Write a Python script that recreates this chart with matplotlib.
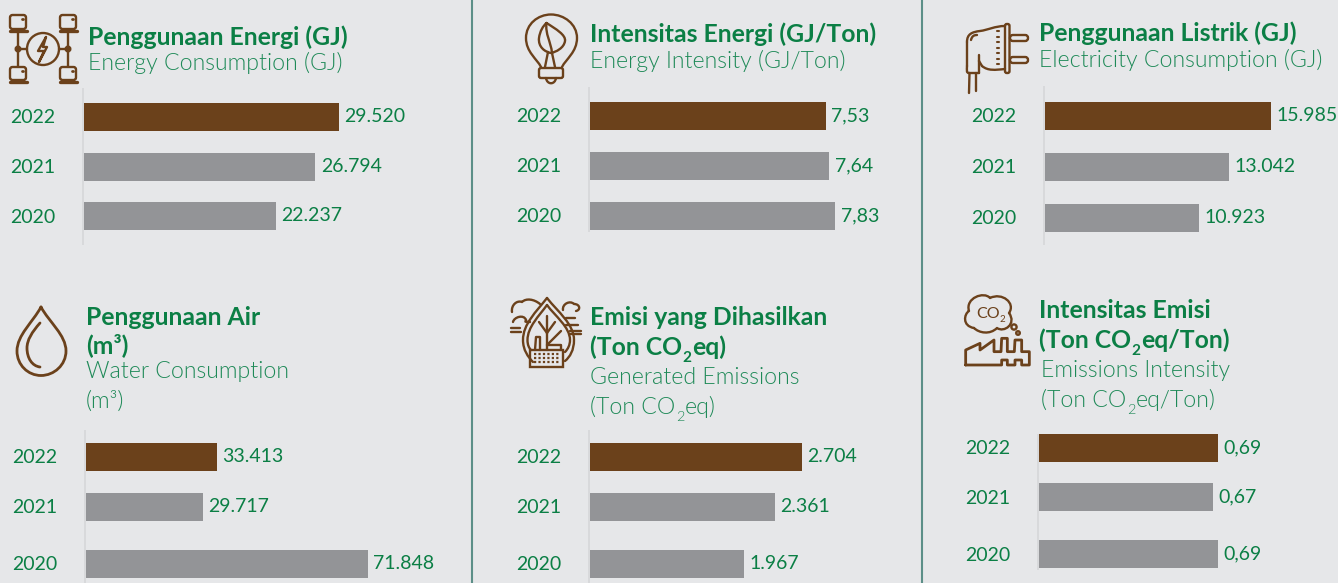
import matplotlib
matplotlib.use("Agg")
import matplotlib.pyplot as plt
from matplotlib import font_manager as fm
from matplotlib.patches import Circle, Rectangle, PathPatch, FancyBboxPatch
from matplotlib.path import Path
import os

years = ["2022", "2021", "2020"]
energy = [29520, 26794, 22237]
energy_intensity = [7.53, 7.64, 7.83]
electricity = [15985, 13042, 10923]
water = [33413, 29717, 71848]
emissions = [2704, 2361, 1967]
emission_intensity = [0.69, 0.67, 0.69]

energy_labels = ["29.520", "26.794", "22.237"]
energy_intensity_labels = ["7,53", "7,64", "7,83"]
electricity_labels = ["15.985", "13.042", "10.923"]
water_labels = ["33.413", "29.717", "71.848"]
emissions_labels = ["2.704", "2.361", "1.967"]
emission_intensity_labels = ["0,69", "0,67", "0,69"]

W, H = 1338, 583
BG = "#e6e7e9"; BROWN = "#6b411b"; GREY = "#939497"; GREEN = "#0b7f45"; LIGHT = "#1f8a58"
AXL = "#d6d7d9"; DIV = "#5c8f88"
FONT = "Lato"

def find_light():
    for f in fm.fontManager.ttflist:
        if os.path.basename(f.fname).lower() in ("lato-light.ttf", "lato-light.otf"):
            return f.fname
    return None
LIGHT_FILE = find_light()

fig = plt.figure(figsize=(W/100, H/100), dpi=100, facecolor=BG)
ov = fig.add_axes([0, 0, 1, 1], zorder=5)
ov.set_xlim(0, W); ov.set_ylim(H, 0); ov.axis("off")
ov.patch.set_alpha(0)

def runs(x, y, parts, size, weight, color):
    """Text with optional subscript pieces, baseline at y (px)."""
    r = fig.canvas.get_renderer()
    for s, sub in parts:
        fs = size*0.62 if sub else size
        if weight == "light":
            fp = fm.FontProperties(fname=LIGHT_FILE, size=fs) if LIGHT_FILE else fm.FontProperties(family=FONT, size=fs)
        else:
            fp = fm.FontProperties(family=FONT, weight=weight, size=fs)
        t = ov.text(x, y + (size*0.42 if sub else 0), s, fontproperties=fp,
                    color=color, ha="left", va="baseline")
        x = x + t.get_window_extent(r).width + 0.5

TICK = 14.0
T = 17.8; S = 16.7

def panel(x0, px_per, vals, labels, ys, axis_span, year_x, year_ys):
    height = 200
    top = ys[0] - 40
    ax = fig.add_axes([x0/W, 1-(top+height)/H, 400/W, height/H], zorder=2)
    ax.set_xlim(0, 400/px_per); ax.set_ylim(top+height, top); ax.axis("off")
    ax.patch.set_alpha(0)
    ax.barh(ys, vals, height=28, color=[BROWN, GREY, GREY], linewidth=0)
    ov.plot([x0-0.8, x0-0.8], axis_span, color=AXL, lw=1.2, solid_capstyle="butt", zorder=1)
    for i, v in enumerate(vals):
        ov.text(x0 + v*px_per + 5.5, ys[i]-0.5, labels[i], fontsize=TICK, color=GREEN, family=FONT, va="center")
        ov.text(year_x, year_ys[i]+0.5, years[i], fontsize=TICK, color=GREEN, family=FONT, va="center")

panel(84, 255/29520, energy, energy_labels, [117, 167, 216], (88, 245), 10, [117, 167, 217])
panel(590, 236/7.53, energy_intensity, energy_intensity_labels, [116, 166, 216], (87, 232), 516.5, [116, 166, 216])
panel(1045, 226/15985, electricity, electricity_labels, [116, 167, 218], (86, 245), 971, [116, 167, 218])
panel(86, 131/33413, water, water_labels, [457, 507, 564], (430, 583), 12, [457, 507, 564])
panel(590, 212/2704, emissions, emissions_labels, [457, 507, 564], (430, 583), 516.5, [457, 507, 564])
panel(1039, 179/0.69, emission_intensity, emission_intensity_labels, [448, 497, 554], (434, 570), 965, [448, 498, 555])

ov.plot([471.5, 471.5], [0, H], color=DIV, lw=1.5)
ov.plot([921.5, 921.5], [0, H], color=DIV, lw=1.5)

# Titles
runs(88, 45, [("Penggunaan Energi (GJ)", 0)], T, "bold", GREEN)
runs(88, 70, [("Energy Consumption (GJ)", 0)], S, "light", LIGHT)
runs(590, 42, [("Intensitas Energi (GJ/Ton)", 0)], T, "bold", GREEN)
runs(590, 68, [("Energy Intensity (GJ/Ton)", 0)], S, "light", LIGHT)
runs(1039, 41, [("Penggunaan Listrik (GJ)", 0)], T, "bold", GREEN)
runs(1039, 67, [("Electricity Consumption (GJ)", 0)], S, "light", LIGHT)
runs(86, 325, [("Penggunaan Air", 0)], T, "bold", GREEN)
runs(86, 353, [("(m³)", 0)], T, "bold", GREEN)
runs(86, 378, [("Water Consumption", 0)], S, "light", LIGHT)
runs(86, 408, [("(m³)", 0)], S, "light", LIGHT)
runs(590, 325, [("Emisi yang Dihasilkan", 0)], T, "bold", GREEN)
runs(590, 355, [("(Ton CO", 0), ("2", 1), ("eq)", 0)], T, "bold", GREEN)
runs(590, 384, [("Generated Emissions", 0)], S, "light", LIGHT)
runs(590, 414, [("(Ton CO", 0), ("2", 1), ("eq)", 0)], S, "light", LIGHT)
runs(1039, 318, [("Intensitas Emisi", 0)], T, "bold", GREEN)
runs(1039, 348, [("(Ton CO", 0), ("2", 1), ("eq/Ton)", 0)], T, "bold", GREEN)
runs(1041, 377, [("Emissions Intensity", 0)], S, "light", LIGHT)
runs(1041, 407, [("(Ton CO", 0), ("2", 1), ("eq/Ton)", 0)], S, "light", LIGHT)

# Icons (pixel-space decoration)
LW = 1.7
def L(xs, ys, lw=LW):
    ov.plot(xs, ys, color=BROWN, lw=lw, solid_capstyle="round", solid_joinstyle="round")
def C(x, y, r, lw=LW):
    ov.add_patch(Circle((x, y), r, fill=False, ec=BROWN, lw=lw))
def curve(verts, lw=LW):
    codes = [Path.MOVETO] + [Path.CURVE4]*(len(verts)-1)
    ov.add_patch(PathPatch(Path(verts, codes), fill=False, ec=BROWN, lw=lw, capstyle="round", joinstyle="round"))
def RR(x, y, w, h, lw=LW, r=1.5):
    ov.add_patch(FancyBboxPatch((x+r, y+r), w-2*r, h-2*r, boxstyle=f"round,pad={r}", fill=False, ec=BROWN, lw=lw))

# 1. network
C(43, 49, 16)
L([46, 38, 44, 39, 47, 43, 46], [37, 51, 51, 62, 47, 47, 37])
L([18, 18], [32, 66]); L([68, 68], [32, 66])
L([18, 27], [49, 49]); L([59, 68], [49, 49])
C(18, 49, 2.3); C(68, 49, 2.3)
for cx in (18, 68):
    RR(cx-8, 15, 16, 14, r=2.5); L([cx-8.5, cx+8.5], [30.5, 30.5], 2.4)
    RR(cx-8, 67, 16, 13, r=2.5); L([cx-8.5, cx+8.5], [82, 82], 2.4)
    L([cx+3.5, cx+4.5], [18.5, 18.5], 2.0); L([cx+3.5, cx+4.5], [70.5, 70.5], 2.0)

# 2. bulb with leaf
curve([(541, 67), (537, 59), (526, 52), (526, 38), (526, 24), (538, 14.5), (551, 14.5),
       (564, 14.5), (577, 24), (577, 38), (577, 52), (566, 59), (562, 67)])
curve([(546.5, 23), (556, 29), (566, 35), (565, 41), (564, 48), (556, 52), (551, 53),
       (545, 52), (538, 47), (539, 38), (540, 31), (543, 26), (546.5, 23)])
curve([(546.5, 23), (545, 34), (551, 42), (552, 53)])
L([552, 555], [53, 67]); L([548, 545], [52, 67])
RR(539, 68, 24, 10, r=2)
curve([(546, 78), (547, 85), (555, 85), (556, 78)])

# 3. plug
curve([(969, 73), (966, 73), (967, 70), (967, 66)])
L([967, 967], [66, 42])
curve([(967, 42), (967, 34), (972, 32), (980, 31), (988, 30), (995, 26), (1005, 26)])
curve([(1005, 69), (995, 70), (988, 71), (982, 66)])
L([979, 979], [55, 61]); L([979, 982], [61, 66]); L([969, 979], [73, 73])
L([979, 979], [61, 73])
curve([(971, 40), (972, 36), (974, 35), (977, 35)])
RR(1005, 24, 4.5, 49, r=1.8)
for yy in (38, 60):
    RR(1010, yy-3, 18, 6, r=2.8)
for yy in (31, 36.5, 42, 47.5, 53, 58.5, 64):
    L([997, 999], [yy, yy], 1.5)
L([969.5, 969], [73, 93]); L([976, 976], [73, 91])

# 4. drop
curve([(41, 307), (33, 322), (17, 335), (17, 351), (17, 365), (28, 375.5), (41, 375.5),
       (54, 375.5), (66, 365), (66, 351), (66, 335), (49, 322), (41, 307)], 2.0)
curve([(40, 323), (32, 332), (27, 340), (27, 348), (27, 358), (32, 366), (40, 367)], 2.0)

# 5. leaf/factory
curve([(547, 298), (536, 312), (523, 324), (523, 340), (523, 350), (528, 357), (533, 362)])
curve([(547, 298), (558, 312), (574, 324), (574, 340), (574, 350), (570, 357), (565, 361)])
curve([(547, 305), (539, 316), (527.5, 327), (527.5, 340), (527.5, 345), (529, 348), (531, 350)])
curve([(547, 305), (555, 316), (570, 327), (570, 340), (570, 345), (568, 349), (565, 352)])
L([547, 547], [316, 345]); L([539, 547], [322, 333]); L([547, 561], [345, 331]); L([547, 555], [333, 322])
ov.add_patch(Rectangle((530, 350), 33, 17, fill=False, ec=BROWN, lw=LW))
L([535, 536, 540, 540], [350, 337, 337, 350]); L([547, 547, 561, 561], [350, 345, 345, 350])
for yy in (354, 358, 362):
    ov.plot([534, 560], [yy, yy], color=BROWN, lw=1.6, ls=(0, (1, 1)))
curve([(512, 312), (511, 305), (517, 300), (522, 302), (526, 298), (534, 299), (540, 304)])
curve([(513, 322), (514, 317), (524, 314), (526, 320), (527, 321), (522, 322), (530, 322)])
L([511, 521], [332, 332]); L([511, 520], [328, 328])
curve([(563, 310), (562, 304), (570, 300), (574, 304), (580, 304), (581, 310), (576, 311)])
L([566, 575], [318, 318]); L([570, 581], [331, 331]); L([570, 581], [333.5, 333.5]); L([566, 578], [325, 325])

# 6. CO2 factory
curve([(974, 328), (962, 326), (964, 314), (969, 311), (965, 298), (984, 291), (990, 298),
       (1002, 292), (1016, 303), (1009, 313), (1017, 324), (1004, 333), (997, 328), (990, 335), (979, 333), (974, 328)])
ov.text(988, 313.5, "CO", fontsize=11.5, color=BROWN, family=FONT, ha="center", va="center")
ov.text(1002, 319, "2", fontsize=7, color=BROWN, family=FONT, ha="center", va="center")
C(1014, 327, 2.6); C(1018, 333, 1.8)
fx = [137, 137, 180, 180, 222, 222, 243, 245, 262, 262, 283, 285, 305, 305, 328, 328, 305, 305, 285, 285, 262, 262, 245, 245, 137]
fy = [225, 180, 160, 180, 150, 185, 185, 145, 145, 185, 185, 150, 150, 185, 185, 225, 225, 210, 210, 225, 225, 210, 210, 225, 225]
L([920+v/3 for v in fx], [290+v/3 for v in fy], 2.0)

fig.savefig("out.png", dpi=100, facecolor=BG)
